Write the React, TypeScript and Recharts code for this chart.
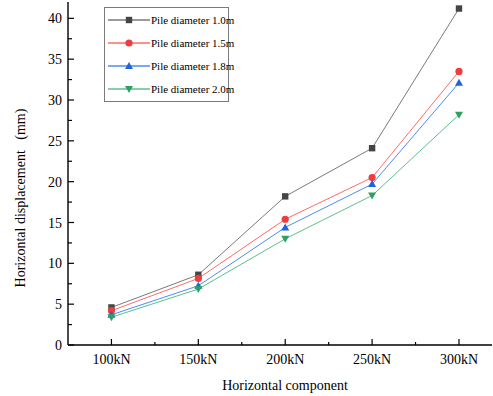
import React from 'react';
import { LineChart, Line, XAxis, YAxis } from 'recharts';

const loads = [100, 150, 200, 250, 300];
const pile10 = [4.6, 8.6, 18.2, 24.1, 41.2];
const pile15 = [4.2, 8.15, 15.4, 20.5, 33.5];
const pile18 = [3.7, 7.25, 14.4, 19.7, 32.1];
const pile20 = [3.4, 6.85, 13.0, 18.3, 28.2];
const seriesNames = ['Pile diameter 1.0m', 'Pile diameter 1.5m', 'Pile diameter 1.8m', 'Pile diameter 2.0m'];
const xTicks = [100, 125, 150, 175, 200, 225, 250, 275, 300];
const yTicks = [0, 2.5, 5, 7.5, 10, 12.5, 15, 17.5, 20, 22.5, 25, 27.5, 30, 32.5, 35, 37.5, 40];

const data = loads.map((x, i) => ({ x, p10: pile10[i], p15: pile15[i], p18: pile18[i], p20: pile20[i] }));

const FONT = '"Liberation Serif", "Times New Roman", serif';
const lineColors = ['#7a7a7a', '#ff6a6a', '#4a8ef0', '#5cc08a'];
const markColors = ['#454545', '#f03c3c', '#1e64dc', '#2ea060'];
const keys = ['p10', 'p15', 'p18', 'p20'];

const marker = (i: number, cx: number, cy: number, k?: string) => {
  const c = markColors[i];
  if (i === 0) return <rect key={k} x={cx - 3.2} y={cy - 3.2} width={6.4} height={6.4} fill={c} />;
  if (i === 1) return <circle key={k} cx={cx} cy={cy} r={3.6} fill={c} />;
  if (i === 2) return <polygon key={k} points={`${cx},${cy - 4} ${cx - 4},${cy + 3} ${cx + 4},${cy + 3}`} fill={c} />;
  return <polygon key={k} points={`${cx},${cy + 4} ${cx - 4},${cy - 3} ${cx + 4},${cy - 3}`} fill={c} />;
};

const XTick = (props: any) => {
  const { x, y, payload } = props;
  const major = payload.value % 50 === 0;
  return (
    <g>
      <line x1={x} x2={x} y1={y} y2={y - (major ? 6 : 3)} stroke="#000" strokeWidth={1.2} />
      {major && (
        <text x={x} y={y + 19} textAnchor="middle" fontSize={14} fontFamily={FONT} fill="#000">
          {`${payload.value}kN`}
        </text>
      )}
    </g>
  );
};

const YTick = (props: any) => {
  const { x, y, payload } = props;
  const major = payload.value % 5 === 0;
  return (
    <g>
      <line x1={x} x2={x + (major ? 6 : 4)} y1={y} y2={y} stroke="#000" strokeWidth={1.2} />
      {major && (
        <text x={x - 6} y={y + 5} textAnchor="end" fontSize={14} fontFamily={FONT} fill="#000">
          {payload.value}
        </text>
      )}
    </g>
  );
};

const LegendBox = () => (
  <div
    style={{
      position: 'absolute',
      left: 104,
      top: 7,
      border: '1.5px solid #7a7a7a',
      width: 125,
      height: 95,
      boxSizing: 'border-box',
      background: '#fff',
    }}
  >
    <svg width={140} height={92} style={{ overflow: 'visible', display: 'block' }}>
      {seriesNames.map((n, i) => {
        const cy = 12 + i * 23;
        return (
          <g key={n}>
            <line x1={3} x2={45} y1={cy} y2={cy} stroke={lineColors[i]} strokeWidth={1.5} />
            {marker(i, 24, cy)}
            <text x={46} y={cy + 4} fontSize={11} fontFamily={FONT} fill="#000">{n}</text>
          </g>
        );
      })}
    </svg>
  </div>
);

export default function App() {
  return (
    <div style={{ position: 'absolute', left: 0, top: 0, width: 493, height: 396, background: '#fff' }}>
      <LineChart width={493} height={396} data={data} margin={{ top: 2, right: 1, bottom: 0, left: 0 }}>
        <XAxis
          dataKey="x"
          type="number"
          domain={[75, 319]}
          ticks={xTicks}
          interval={0}
          height={51}
          tickSize={0}
          tickMargin={0}
          tickLine={false}
          tick={<XTick />}
          axisLine={{ stroke: '#000', strokeWidth: 1.4 }}
          allowDataOverflow
          label={{
            content: () => (
              <text x={285} y={390} textAnchor="middle" fontSize={14} fontFamily={FONT} fill="#000">
                Horizontal component
              </text>
            ),
          }}
        />
        <YAxis
          type="number"
          domain={[0, 42]}
          ticks={yTicks}
          interval={0}
          width={68}
          tickSize={0}
          tickMargin={0}
          tickLine={false}
          tick={<YTick />}
          axisLine={{ stroke: '#000', strokeWidth: 1.4 }}
          allowDataOverflow
          label={{
            content: () => (
              <text
                x={25}
                y={198}
                transform="rotate(-90 25 198)"
                textAnchor="middle"
                fontSize={14}
                fontFamily={FONT}
                fill="#000"
                style={{ whiteSpace: 'pre' }}
              >
                {'Horizontal displacement\u2002 (mm)'}
              </text>
            ),
          }}
        />
        {keys.map((k, i) => (
          <Line
            key={k}
            dataKey={k}
            name={seriesNames[i]}
            stroke={lineColors[i]}
            strokeWidth={1}
            isAnimationActive={false}
            dot={(p: any) => marker(i, p.cx, p.cy, `${k}-${p.index}`)}
            activeDot={false}
          />
        ))}
      </LineChart>
      <LegendBox />
    </div>
  );
}
